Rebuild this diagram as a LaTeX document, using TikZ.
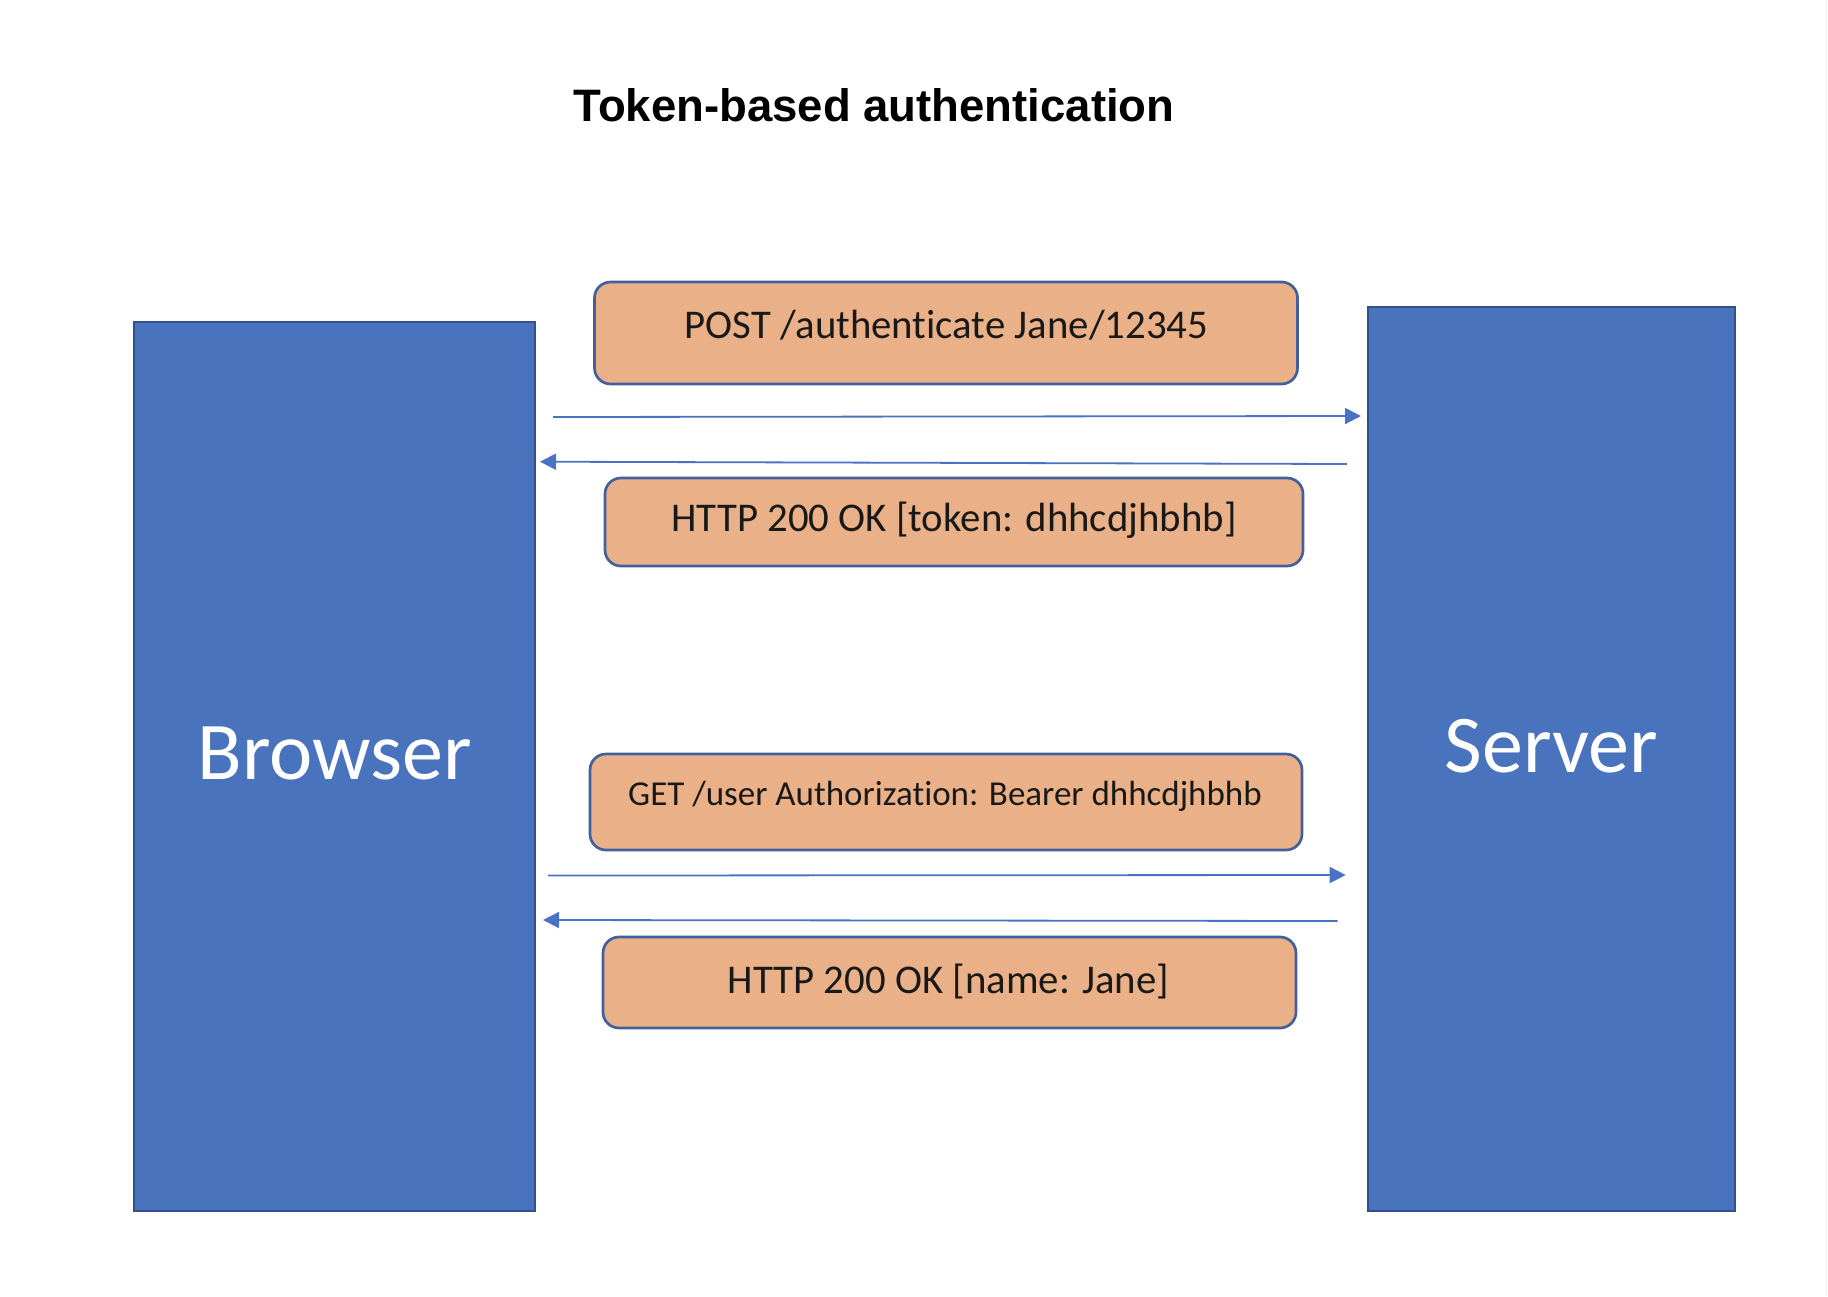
\documentclass[tikz,border=0pt]{standalone}
\usepackage{fontspec}
\setmainfont{Carlito}[Ligatures={NoCommon}]
\newfontfamily\titlefont{Liberation Sans}
\usetikzlibrary{arrows.meta}
\definecolor{sideblue}{HTML}{4A73BE}
\definecolor{sideedge}{HTML}{2F528F}
\definecolor{msgfill}{HTML}{EAB188}
\definecolor{msgedge}{HTML}{41609C}
\definecolor{arrowblue}{HTML}{4A72C4}
\tikzset{
  sidebox/.style={draw=sideedge, line width=2pt, fill=sideblue, inner sep=0pt, anchor=north west},
  sidetext/.style={text=white, anchor=base, inner sep=0pt, font=\fontsize{82}{90}\selectfont},
  msgbox/.style={draw=msgedge, line width=2.7pt, fill=msgfill, rounded corners=16pt, inner sep=0pt},
  msgtext/.style={anchor=base, inner sep=0pt, text=black!90, font=\fontsize{40.8}{48}\selectfont},
  msgarrow/.style={draw=arrowblue, line width=1.8pt, -{Triangle[length=16pt,width=16pt]}},
}
\begin{document}
\begin{tikzpicture}[x=1pt,y=-1pt]
\useasboundingbox (0,0) rectangle (1828,1296);
\fill[white] (0,0) rectangle (1828,1296);
\draw[gray!12, line width=1.5pt] (1826.5,0) -- (1826.5,1296);

% title
\node[anchor=base, inner sep=0pt, font=\titlefont\bfseries\fontsize{45.5}{52}\selectfont] (title) at (874,121) {Token-based authentication};

% side columns
\node[sidebox, minimum width=401pt, minimum height=889pt] (browser) at (133,321) {};
\node[sidetext] (browsertext) at (334.5,779) {Browser};
\node[sidebox, minimum width=367pt, minimum height=904pt] (server) at (1367,306) {};
\node[sidetext] (servertext) at (1551.5,772) {Server};

% message boxes
\node[msgbox, minimum width=703pt, minimum height=102pt] (m1) at (946,333) {};
\node[msgtext] (m1text) at (946.5,338) {POST /authenticate Jane/12345};
\node[msgbox, minimum width=698pt, minimum height=88pt] (m2) at (954,522) {};
\node[msgtext] (m2text) at (954,531.7) {HTTP 200 OK [token: dhhcdjhbhb]};
\node[msgbox, minimum width=712pt, minimum height=96pt] (m3) at (946,802) {};
\node[msgtext, font=\fontsize{35}{42}\selectfont] (m3text) at (945,805) {GET /user Authorization: Bearer dhhcdjhbhb};
\node[msgbox, minimum width=693pt, minimum height=91pt] (m4) at (949.5,982.5) {};
\node[msgtext] (m4text) at (948.5,993) {HTTP 200 OK [name: Jane]};

% arrow end points
\coordinate (a1s) at (553,417);
\coordinate (a1e) at (1361,416);
\coordinate (a2s) at (1347,464);
\coordinate (a2e) at (540,461.7);
\coordinate (a3s) at (548,875.5);
\coordinate (a3e) at (1345.7,875);
\coordinate (a4s) at (1337.7,921);
\coordinate (a4e) at (543,920);

\draw[msgarrow] (a1s) -- (a1e);
\draw[msgarrow] (a2s) -- (a2e);
\draw[msgarrow] (a3s) -- (a3e);
\draw[msgarrow] (a4s) -- (a4e);
\end{tikzpicture}
\end{document}
